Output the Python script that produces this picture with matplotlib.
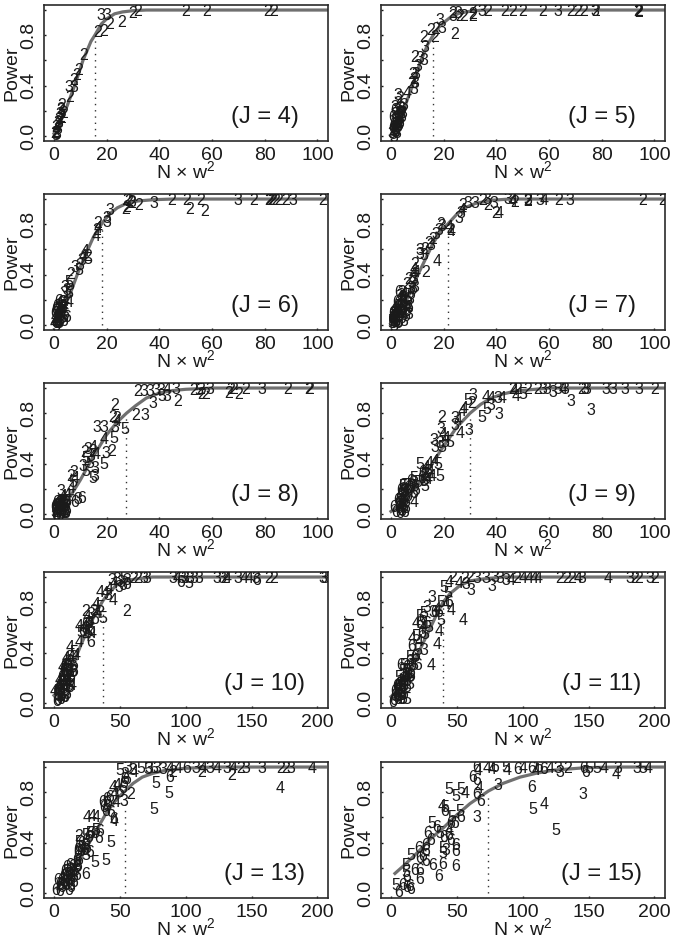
import matplotlib
matplotlib.use("Agg")
import matplotlib.pyplot as plt

plt.rcParams['font.family'] = ['Liberation Sans', 'DejaVu Sans']
plt.rcParams['mathtext.default'] = 'regular'

# Values. Each point is (N x w^2, power, digit).
j4_points = [(81,.99,'2'),(83.5,.99,'2'),(57.9,.99,'2'),(50,.99,'2'),(29.8,.975,'2'),(31.7,.99,'2'),(25.5,.90,'2'),
    (21,.885,'2'),(17.8,.96,'3'),(20,.96,'3'),(16.5,.825,'2'),(18.8,.83,'2'),(11.4,.635,'2'),(9.3,.52,'2'),(8.4,.48,'2'),
    (7.6,.44,'2'),(5.5,.385,'3'),(7.6,.385,'3'),(6,.305,'2'),(3,.24,'2'),(2.8,.2,'3'),(2.4,.21,'2'),(3.5,.18,'2'),
    (2.2,.17,'3'),(2.6,.15,'2'),(3,.14,'2'),(1.8,.13,'2'),(2,.1,'3'),(1.5,.11,'2'),(1.2,.08,'2'),(.8,.07,'2'),
    (1.5,.05,'3'),(1,.03,'2'),(.5,.02,'2'),(1.2,.01,'3'),(.2,.02,'2'),(.8,0,'3')]
j5_points = [(93.5,.985,'2'),(93.8,.98,'2'),(93.9,.99,'2'),(77.4,.99,'3'),(77.8,.99,'2'),(73.2,.99,'2'),(71,.99,'2'),
    (68.3,.99,'2'),(63.5,.99,'3'),(57.4,.99,'2'),(49.9,.99,'2'),(46.3,.99,'2'),(43.1,.99,'2'),(36.8,.985,'2'),
    (34.5,.99,'3'),(31.1,1.01,'2'),(30.8,.965,'2'),(31,.945,'2'),(27.5,.945,'2'),(26,.95,'2'),(23.5,.97,'2'),
    (25.4,.975,'3'),(23.5,.945,'3'),(24.1,.805,'2'),(18.4,.92,'3'),(19.4,.85,'3'),(17.1,.845,'2'),(15.2,.84,'2'),
    (12.3,.78,'2'),(16.5,.78,'2'),(12.7,.705,'3'),(8.9,.62,'2'),(10.8,.615,'3'),(12.3,.6,'3'),(10.2,.555,'3'),
    (8.2,.485,'2'),(9.3,.49,'3'),(8.5,.445,'2'),(8,.42,'2'),(9.1,.42,'3'),(8.5,.365,'3'),(6,.34,'4'),(2.8,.325,'3'),
    (3.2,.3,'2'),(2.5,.26,'2'),(5,.245,'3'),(1.4,.23,'3'),(3.6,.22,'3'),(2.2,.2,'3'),(4.4,.18,'3'),(1.5,.17,'3'),
    (3,.16,'3'),(2,.14,'3'),(3.5,.13,'3'),(1.2,.12,'2'),(2.6,.1,'3'),(1.8,.09,'3'),(3,.08,'3'),(1,.07,'3'),
    (2,.05,'3'),(.6,.04,'2'),(1.4,.03,'3'),(2.2,.02,'3'),(.2,.02,'3'),(.8,.01,'3'),(1.2,-.01,'3')]
j6_points = [(101.9,.99,'2'),(90.5,.99,'3'),(88,.99,'2'),(85.4,.99,'2'),(81.6,.99,'2'),(82,.99,'2'),(82.5,.99,'2'),
    (83,.99,'2'),(84,.99,'2'),(75.9,.99,'2'),(69.8,.99,'3'),(55.6,.99,'2'),(57.1,.9,'2'),(50.3,.99,'2'),(51.5,.92,'2'),
    (44.8,.99,'2'),(38.1,.965,'3'),(32.1,.945,'2'),(29.6,.965,'2'),(27.7,.99,'2'),(27.4,.935,'2'),(28.3,.98,'2'),
    (27,.92,'2'),(29.6,.975,'3'),(21.3,.91,'3'),(20,.845,'3'),(20,.81,'3'),(16.6,.805,'2'),(16.2,.75,'2'),(16,.705,'4'),
    (16.9,.765,'4'),(11.8,.58,'4'),(10.9,.54,'4'),(12.7,.54,'2'),(12.7,.52,'5'),(10.5,.515,'3'),(8,.46,'3'),(9.9,.475,'3'),
    (9.6,.43,'5'),(6.3,.4,'2'),(5.5,.34,'5'),(4.2,.3,'3'),(6.1,.315,'5'),(4.8,.275,'3'),(5.5,.25,'5'),(3.6,.25,'3'),
    (5.8,.18,'4'),(4.4,.19,'4'),(3.2,.18,'3'),(2,.17,'4'),(3.6,.15,'4'),(2.4,.14,'4'),(1.2,.13,'4'),(3.2,.11,'4'),
    (2,.1,'4'),(3.6,.06,'5'),(1,.09,'4'),(2.2,.07,'5'),(.6,.06,'4'),(1.6,.05,'5'),(.4,.03,'4'),(1,.02,'5'),(1.8,.01,'5'),
    (.2,.01,'4'),(.8,-.01,'5')]
j7_points = [(103.2,.99,'2'),(95.6,.99,'2'),(67.9,.99,'3'),(63.5,.99,'2'),(58,.99,'4'),(56.7,.99,'3'),(51.7,.99,'2'),
    (52,.99,'3'),(51.8,.98,'2'),(46.3,.98,'4'),(44.4,1,'3'),(45.7,1,'3'),(47,.97,'2'),(38.9,.965,'3'),(36.8,.95,'2'),
    (36.4,1,'3'),(34.9,.99,'2'),(31.7,.965,'3'),(29.2,.965,'3'),(27.3,.95,'2'),(41.2,.885,'4'),(39.7,.885,'2'),
    (27,.91,'4'),(25.8,.845,'3'),(26.6,.885,'3'),(22.8,.74,'4'),(22.5,.75,'2'),(22.2,.77,'4'),(19.4,.78,'3'),
    (19,.795,'2'),(18.2,.75,'3'),(17,.72,'3'),(17.4,.505,'4'),(13.1,.415,'2'),(15.8,.68,'2'),(15.2,.63,'3'),(14.2,.65,'2'),
    (12.6,.6,'2'),(11,.59,'3'),(10.8,.56,'3'),(12.4,.55,'3'),(9.1,.48,'2'),(8.8,.44,'4'),(9.4,.42,'4'),(8.4,.4,'4'),
    (8.7,.36,'3'),(6.5,.36,'2'),(5.9,.32,'2'),(8,.33,'3'),(7.4,.29,'3'),(8.9,.3,'3'),(4.1,.26,'3'),(3.7,.23,'3'),
    (5.1,.24,'4'),(4.3,.2,'4'),(3,.21,'4'),(7.2,.2,'3'),(6.5,.17,'3'),(6,.14,'4'),(3.5,.17,'4'),(2,.15,'4'),(4.8,.13,'4'),
    (3,.12,'4'),(1.3,.13,'4'),(6.6,.08,'3'),(4.5,.09,'4'),(2.5,.09,'4'),(1.5,.08,'4'),(3.6,.07,'4'),(4.8,.03,'3'),
    (.9,.06,'4'),(2.2,.05,'4'),(1.2,.04,'5'),(.4,.03,'5'),(1.8,.02,'5'),(.8,.01,'5'),(.2,.01,'5'),(1.2,-.01,'5')]
j8_points = [(96.5,.985,'2'),(97.2,.99,'2'),(88.8,.99,'2'),(79,.99,'3'),(72.7,.99,'2'),(70.2,.95,'2'),(68.3,.99,'2'),
    (66.4,.955,'2'),(67,.99,'2'),(56.2,.945,'2'),(57.5,.95,'2'),(59.1,.99,'3'),(55.6,.99,'2'),(55,.98,'5'),(53,.98,'2'),
    (47,.89,'2'),(46.4,.99,'3'),(42.9,.99,'4'),(40.4,.98,'3'),(42.9,.935,'3'),(41,.935,'5'),(38.8,.98,'3'),(36.3,.97,'3'),
    (31.7,.97,'2'),(34,.97,'3'),(37.6,.88,'3'),(30.8,.785,'2'),(34.6,.785,'3'),(27,.67,'5'),(23,.86,'2'),(22.3,.77,'2'),
    (23.9,.76,'2'),(24,.735,'4'),(23.2,.69,'3'),(16.2,.69,'3'),(19,.69,'3'),(19.2,.595,'4'),(22.6,.6,'5'),(19.8,.48,'3'),
    (22,.495,'2'),(18.8,.39,'5'),(15,.53,'4'),(14.5,.5,'2'),(13,.51,'3'),(11.5,.49,'2'),(16,.47,'4'),(14,.46,'3'),
    (12,.44,'5'),(10.8,.38,'3'),(13.5,.4,'5'),(15.5,.36,'3'),(12,.34,'5'),(15.4,.3,'3'),(14.8,.28,'5'),(7.5,.33,'3'),
    (6.2,.3,'2'),(8,.28,'4'),(7,.25,'5'),(10.5,.12,'6'),(9,.115,'3'),(2.5,.18,'3'),(6.5,.2,'4'),(5,.15,'4'),(6.8,.14,'5'),
    (3.5,.14,'4'),(7.8,.09,'6'),(4.8,.1,'5'),(2.8,.1,'4'),(1.5,.1,'4'),(3.6,.08,'5'),(2,.07,'5'),(4.5,.06,'5'),(1,.06,'5'),
    (3,.05,'5'),(1.8,.04,'6'),(4,.03,'6'),(.6,.03,'5'),(2.8,.02,'6'),(1.2,.01,'6'),(.2,.01,'5'),(3.6,.0,'6'),(2,-.01,'6'),
    (.6,-.01,'6'),(4.6,.01,'6')]
j9_points = [(100,.99,'2'),(93.9,.99,'3'),(88.8,.99,'3'),(84.4,.99,'3'),(81.6,.99,'3'),(74.2,.99,'3'),(72.3,.99,'2'),
    (73.6,.99,'3'),(75.8,.825,'3'),(68.3,.895,'3'),(66,.99,'3'),(65.4,.99,'4'),(63.5,.99,'3'),(61.3,.965,'3'),(57.7,.99,'3'),
    (55.8,.99,'2'),(59,.99,'3'),(52,.99,'2'),(48.2,.99,'2'),(46.3,.99,'2'),(50,.95,'5'),(47.6,.93,'4'),(46.8,.98,'4'),
    (41,.79,'3'),(38,.92,'4'),(36.2,.925,'4'),(40.6,.915,'3'),(42,.915,'4'),(36.2,.83,'5'),(38,.86,'3'),(34.3,.77,'5'),
    (31.1,.94,'3'),(29.2,.905,'5'),(30.5,.88,'2'),(27,.81,'4'),(27.8,.84,'4'),(29.6,.665,'3'),(26.3,.64,'4'),(24.1,.76,'3'),
    (19.3,.77,'2'),(24.2,.7,'3'),(25.5,.74,'4'),(18.8,.67,'3'),(19.8,.63,'4'),(21,.6,'4'),(16.4,.58,'3'),(18.4,.56,'3'),
    (20.6,.57,'5'),(22.4,.57,'5'),(19.4,.53,'5'),(16.8,.53,'3'),(16.6,.42,'4'),(17.6,.39,'5'),(14.6,.4,'4'),(13.4,.37,'4'),
    (11,.39,'5'),(15,.33,'4'),(18.4,.3,'5'),(15.6,.3,'4'),(13,.31,'5'),(12.4,.26,'5'),(14,.27,'4'),(13,.22,'5'),(8.6,.28,'5'),
    (10,.25,'5'),(7.5,.26,'6'),(9.5,.19,'6'),(8.5,.16,'6'),(8.6,.09,'4'),(6,.23,'5'),(4.6,.22,'5'),(7,.2,'6'),(5.2,.18,'5'),
    (3.8,.15,'5'),(6.2,.14,'6'),(4.8,.12,'6'),(3.2,.11,'5'),(5.6,.09,'6'),(2.8,.08,'6'),(4,.07,'6'),(1,.055,'6'),(5,.05,'6'),
    (3,.04,'6'),(4.2,.02,'6'),(1.8,.01,'6'),(5.2,.01,'6'),(3.2,0,'6')]
j10_points = [(203.8,.99,'3'),(206,.99,'3'),(167,.99,'2'),(163,.99,'2'),(154,.97,'6'),(153,.99,'3'),(148,.99,'4'),(144,.99,'4'),
    (139.6,.99,'3'),(131.5,.99,'4'),(129.4,.99,'2'),(127.7,.99,'3'),(123.9,.99,'3'),(110,.99,'3'),(106,.99,'3'),(102.3,.945,'5'),
    (103,.99,'3'),(96,.96,'6'),(93.4,.99,'4'),(90.4,.99,'3'),(97,.99,'3'),(99.7,.99,'3'),(63.5,.99,'2'),(70.6,.99,'3'),(68,.99,'3'),
    (60.4,.99,'2'),(54.8,.725,'2'),(37,.67,'5'),(45.2,.81,'4'),(55,.97,'3'),(53,.99,'5'),(51,.96,'3'),(55,.94,'6'),(48,.98,'3'),
    (52,.93,'6'),(46,.95,'4'),(49,.92,'3'),(44,.97,'3'),(42,.9,'4'),(39,.87,'4'),(35,.875,'4'),(41,.85,'3'),(35,.76,'5'),(32,.78,'4'),
    (33,.71,'4'),(30,.73,'3'),(24,.73,'2'),(28,.7,'3'),(25,.68,'4'),(31,.66,'6'),(27,.63,'4'),(19,.61,'4'),(23,.6,'4'),(26,.56,'5'),
    (20,.56,'5'),(29,.55,'4'),(24,.53,'4'),(28,.48,'6'),(19,.48,'4'),(12,.44,'4'),(15,.4,'5'),(17,.38,'4'),(13,.36,'4'),(9,.35,'4'),
    (11,.32,'4'),(15,.3,'6'),(6,.28,'4'),(8,.27,'4'),(10,.25,'5'),(14,.24,'6'),(6,.22,'4'),(9,.2,'5'),(11,.18,'4'),(4,.18,'4'),
    (7,.16,'5'),(14,.14,'4'),(12,.12,'6'),(3,.13,'4'),(5,.12,'5'),(8,.1,'5'),(0,.09,'4'),(4,.08,'5'),(10,.07,'6'),(6,.06,'5'),
    (2,.06,'5'),(8,.04,'6'),(3,.02,'6'),(2,.01,'6'),(5,.03,'6')]
j11_points = [(200,.99,'2'),(196.4,.99,'3'),(187.8,.99,'2'),(185,.99,'2'),(181.5,.99,'3'),(165,.99,'4'),(144.7,.99,'3'),(142,.99,'4'),
    (137,.99,'2'),(133,.99,'2'),(128,.99,'2'),(111.7,.99,'4'),(109,.99,'4'),(105,.99,'4'),(100,.99,'4'),(95,.99,'2'),(91,.97,'4'),
    (87,.97,'3'),(83,.99,'3'),(79,1,'3'),(72,.99,'3'),(65,.99,'3'),(76.7,.925,'3'),(60.9,.89,'3'),(54.6,.655,'4'),(45.7,.735,'4'),
    (36.8,.565,'4'),(34.8,.465,'4'),(30.5,.3,'4'),(12.2,.03,'5'),(38,.655,'5'),(60,1,'2'),(56,.99,'2'),(47,1,'2'),(57,.94,'3'),(52,.95,'4'),
    (44,.96,'4'),(40,.92,'5'),(43,.87,'5'),(44,.8,'6'),(42,.78,'4'),(38,.8,'5'),(31,.84,'3'),(27,.76,'3'),(32,.72,'3'),(35,.74,'4'),
    (25,.71,'5'),(22,.69,'5'),(19,.63,'4'),(29,.6,'5'),(24,.6,'4'),(26,.54,'5'),(19,.53,'5'),(16,.51,'4'),(21,.49,'4'),(25,.42,'3'),
    (20,.42,'5'),(19,.37,'6'),(14,.36,'5'),(7,.3,'6'),(10,.3,'5'),(17,.3,'5'),(20,.3,'6'),(13,.26,'5'),(9,.25,'5'),(15,.21,'6'),(11,.2,'6'),
    (6,.2,'5'),(14,.15,'5'),(8,.15,'6'),(12,.12,'6'),(5,.13,'6'),(3,.09,'6'),(7,.08,'6'),(10,.07,'6'),(6,.05,'6'),(9,.03,'6'),(2,.02,'6'),(1,.0,'6')]
j13_points = [(196,.99,'4'),(180,.99,'3'),(172,.99,'2'),(176,.99,'2'),(172,.83,'4'),(158,.99,'3'),(135,.93,'2'),(146,.99,'3'),(142,.99,'2'),
    (136,.99,'4'),(131,.99,'3'),(124,.99,'4'),(118,.99,'3'),(113,.99,'4'),(108,.99,'3'),(112,.96,'2'),(101,.99,'6'),(94,.99,'4'),(88,.99,'4'),
    (90,.96,'2'),(88,.92,'6'),(83,.98,'3'),(76,.99,'5'),(71,.98,'5'),(66,.99,'5'),(72,.99,'3'),(78,.99,'3'),(77,.87,'5'),(87,.79,'5'),(76,.66,'5'),
    (60,.97,'3'),(56,1,'3'),(50,.97,'5'),(54,.94,'3'),(54,.9,'6'),(61,.96,'4'),(58,.78,'2'),(53,.73,'3'),(45,.84,'4'),(48,.85,'4'),(46,.78,'4'),
    (41,.72,'6'),(37,.72,'6'),(47,.72,'4'),(39,.65,'6'),(43,.64,'6'),(45,.58,'6'),(46,.57,'4'),(25,.6,'4'),(29,.61,'4'),(32,.6,'4'),(32,.5,'5'),
    (35,.49,'6'),(34,.43,'6'),(43,.4,'5'),(27,.47,'5'),(24,.46,'5'),(19,.45,'2'),(19,.4,'5'),(24,.38,'5'),(18,.34,'6'),(27,.32,'6'),(39,.26,'5'),
    (31,.24,'5'),(24,.3,'5'),(17,.26,'6'),(24,.15,'6'),(17,.2,'6'),(12,.22,'6'),(8,.17,'6'),(14,.16,'6'),(17,.14,'6'),(10,.12,'6'),(6,.1,'6'),
    (13,.1,'6'),(3,.1,'6'),(4,.07,'6'),(9,.06,'6'),(13,.04,'6'),(6,.04,'6'),(1,.02,'6'),(11,.02,'6'),(4,.01,'6')]
j15_points = [(195,.99,'4'),(191,.99,'5'),(187,.99,'3'),(172,.99,'3'),(171,.94,'4'),(162,.99,'4'),(156,.99,'5'),(150,.99,'5'),(146,.99,'6'),(148,.96,'6'),
    (146,.78,'3'),(134,.99,'2'),(127,.99,'3'),(128,.96,'3'),(121,.99,'4'),(112,1,'6'),(116,.98,'6'),(110,.97,'4'),(107,.99,'6'),(96,.98,'6'),(100,.99,'4'),
    (88,.97,'4'),(87,1,'5'),(107,.84,'6'),(116,.7,'4'),(108,.66,'5'),(125,.5,'5'),(81,.85,'3'),(79,1,'6'),(77,.98,'4'),(73,.99,'4'),(65,1,'6'),(66,.97,'4'),
    (62,.92,'6'),(65,.89,'6'),(67,.83,'4'),(65,.78,'6'),(68,.73,'6'),(65,.6,'3'),(44,.82,'5'),(53,.82,'5'),(56,.79,'4'),(49,.77,'5'),(52,.65,'5'),(53,.6,'6'),
    (39,.69,'4'),(41,.68,'5'),(41,.65,'6'),(46,.6,'5'),(45,.55,'6'),(48,.55,'6'),(31,.55,'5'),(35,.52,'6'),(44,.5,'4'),(44,.46,'6'),(37,.47,'5'),(28,.47,'6'),
    (40,.44,'6'),(45,.42,'6'),(30,.42,'6'),(26,.38,'6'),(49,.38,'6'),(49,.33,'6'),(39,.35,'5'),(39,.31,'5'),(42,.34,'3'),(21,.35,'6'),(26,.33,'6'),(15,.3,'5'),
    (24,.29,'6'),(22,.27,'6'),(26,.25,'6'),(39,.23,'6'),(32,.22,'6'),(49,.21,'6'),(11,.22,'5'),(18,.18,'6'),(22,.18,'6'),(36,.13,'6'),(22,.11,'6'),(11,.16,'5'),
    (12,.12,'6'),(4,.06,'5'),(9,.06,'6'),(14,.05,'6'),(12,.04,'6'),(15,.03,'6'),(6,.0,'6')]

# the crowded low ends, drawn as rings of overlapping 6s
j4_crowd = []
j5_crowd = [(1.5,.2),(3.2,.19),(4,.15),(2.6,.13),(.8,.15),(3.4,.1),(1.6,.12),(2.4,.07),(1,.09),(3.6,.17),(.5,.06),(1.8,.03),(2.8,.12),(1.3,.05),(4.2,.21)]
j6_crowd = [(1.8,.19),(3.4,.14),(2.6,.09),(1.4,.07),(4.2,.08),(.8,.12),(3,.05),(2,.03),(1.2,.15),(.4,.09),(2.8,.18),(3.8,.03),(4.8,.06),(.6,.01),(1.4,.01)]
j7_crowd = [(3,.26),(4.5,.22),(2.2,.18),(3.6,.15),(5.8,.11),(1.4,.1),(2.8,.07),(4,.05),(.8,.09),(1.9,.03),(3.1,.02),(.6,.05),(5,.18),(6.2,.2),
    (2.4,.13),(3.4,.09),(1,.02),(4.6,.12),(2.6,.01),(7.5,.24),(8.3,.28),(6.8,.14),(1.6,.06),(2.1,.11),(5.4,.07)]
j8_crowd = [(1.2,.09),(2.4,.1),(3.6,.1),(4.4,.09),(.8,.07),(2.2,.05),(3.4,.03),(1.4,.03),(4,.07),(2.8,.07),(1.8,.08),(.4,.05),(5,.03),(3,.0),(1,-.01),(4.4,0)]
j9_crowd = [(3.6,.19),(4.4,.23),(4.2,.17),(5,.19),(3.4,.12),(4.8,.1),(5.4,.14),(2.6,.11),(4,.09),(5.4,.04),(3.6,.03),(4.6,.07),(6.4,.2),(7.6,.22),(8.4,.25),
    (9,.22),(11.8,.28),(13,.27),(12.2,.33),(14,.34)]
j10_crowd = [(3,.1),(5,.1),(7,.13),(9,.13),(11,.13),(6,.2),(8,.24),(10,.21),(12,.17),(8,.3),(10,.29),(12,.24),(14,.28),(11,.26),(4,.14),(6,.16),(9,.09),(5,.05),(7,.04),
    (3,.05),(9,.17),(13,.2),(7,.26),(15,.25),(11,.36),(24,.58),(26,.63),(28,.58),(24,.62),(22,.57)]
j11_crowd = [(4,.13),(6,.15),(8,.12),(10,.13),(12,.17),(14,.2),(5,.08),(7,.17),(9,.19),(11,.23),(13,.22),(4,.05),(6,.1),(8,.06),(10,.16),(15,.24),(12,.28),(14,.33),(16,.3),(18,.36),
    (3,.05),(5,.03),(7,.03),(16,.45),(22,.63),(24,.67),(23,.55),(27,.63),(33,.72),(36,.72)]
j13_crowd = [(5,.06),(7,.08),(9,.09),(11,.08),(13,.06),(15,.08),(7,.13),(9,.15),(11,.15),(13,.13),(15,.12),(10,.2),(12,.18),(14,.21),(16,.17),(18,.21),(17,.24),(19,.26),(18,.31),
    (20,.33),(23,.34),(25,.35),(19,.36),(21,.39),(24,.41),(26,.44),(28,.47),(31,.47),(38,.68),(40,.74),(42,.76),(40,.69),(53,.87),(55,.9),(52,.83),(50,.8)]
j15_crowd = []

# fitted power curves, read at a handful of x values
j4_curve_x = [0, 2, 5, 8, 11, 14, 15.5, 18, 20, 23, 26, 30, 35, 104]
j4_curve_y = [.02, .09, .24, .41, .6, .75, .8, .89, .93, .97, .985, .995, 1, 1]
j5_curve_x = [0, 2, 5, 8, 11, 14, 16, 18, 20, 23, 26, 30, 35, 104]
j5_curve_y = [.01, .08, .22, .39, .58, .73, .8, .86, .9, .95, .975, .99, 1, 1]
j6_curve_x = [0, 3, 6, 9, 12, 15, 18.3, 21, 24, 28, 32, 38, 45, 104]
j6_curve_y = [.01, .1, .24, .41, .56, .7, .81, .88, .93, .97, .985, .995, 1, 1]
j7_curve_x = [0, 3, 6, 10, 13, 16, 19, 21.5, 25, 28, 32, 38, 45, 104]
j7_curve_y = [.01, .08, .2, .39, .52, .65, .75, .8, .88, .93, .965, .99, 1, 1]
j8_curve_x = [0, 5, 10, 15, 20, 24, 27.5, 31, 35, 40, 45, 50, 60, 104]
j8_curve_y = [.02, .1, .27, .46, .63, .73, .8, .86, .92, .96, .98, .99, 1, 1]
j9_curve_x = [0, 5, 10, 15, 20, 25, 30, 34, 38, 42, 47, 52, 60, 104]
j9_curve_y = [.02, .09, .23, .38, .54, .69, .8, .87, .92, .95, .975, .985, 1, 1]
j10_curve_x = [0, 5, 10, 15, 20, 25, 30, 37, 42, 48, 55, 62, 75, 206]
j10_curve_y = [.06, .11, .21, .32, .45, .57, .68, .81, .88, .94, .97, .985, 1, 1]
j11_curve_x = [0, 5, 10, 15, 20, 25, 30, 35, 39.5, 45, 52, 60, 70, 85, 206]
j11_curve_y = [.05, .1, .17, .27, .38, .49, .6, .71, .8, .87, .93, .97, .985, 1, 1]
j13_curve_x = [2, 10, 20, 30, 40, 48, 54, 60, 67, 75, 85, 100, 120, 206]
j13_curve_y = [.04, .11, .27, .46, .64, .75, .81, .87, .92, .95, .975, .99, 1, 1]
j15_curve_x = [3, 10, 20, 30, 40, 50, 60, 74, 85, 98, 110, 123, 148, 170, 206]
j15_curve_y = [.155, .22, .32, .43, .52, .62, .71, .81, .87, .92, .95, .975, .995, 1, 1]

j_values = [4, 5, 6, 7, 8, 9, 10, 11, 13, 15]
power80_x = [15.5, 16, 18.3, 21.5, 27.5, 30, 37, 39.5, 54, 74]
x_max = [100, 100, 100, 100, 100, 100, 200, 200, 200, 200]
y_ticks = [0, .2, .4, .6, .8, 1]
y_tick_labels = ['0.0', '', '0.4', '', '0.8', '']

all_points = [j4_points, j5_points, j6_points, j7_points, j8_points, j9_points, j10_points, j11_points, j13_points, j15_points]
all_crowds = [j4_crowd, j5_crowd, j6_crowd, j7_crowd, j8_crowd, j9_crowd, j10_crowd, j11_crowd, j13_crowd, j15_crowd]
curves_x = [j4_curve_x, j5_curve_x, j6_curve_x, j7_curve_x, j8_curve_x, j9_curve_x, j10_curve_x, j11_curve_x, j13_curve_x, j15_curve_x]
curves_y = [j4_curve_y, j5_curve_y, j6_curve_y, j7_curve_y, j8_curve_y, j9_curve_y, j10_curve_y, j11_curve_y, j13_curve_y, j15_curve_y]

W, H = 674, 938
col_left = [44, 381]
row_top = [5, 194, 383, 572, 762]
ax_w, ax_h = 284, 136

fig = plt.figure(figsize=(W / 100, H / 100), dpi=100)

for i, j in enumerate(j_values):
    row, col = divmod(i, 2)
    left = col_left[col]
    bottom = H - row_top[row] - ax_h
    ax = fig.add_axes([left / W, bottom / H, ax_w / W, ax_h / H])

    xm = x_max[i]
    ax.plot(curves_x[i], curves_y[i], color='#707070', lw=2.3, zorder=2)
    ax.plot([power80_x[i], power80_x[i]], [0, .78], color='#333333', lw=1, ls=(0, (1, 3.5)), zorder=1)
    for x, y, d in all_points[i]:
        ax.text(x, y, d, fontsize=11.5, ha='center', va='center', color='#1a1a1a', clip_on=True, zorder=3)
    for x, y in all_crowds[i]:
        ax.text(x, y, '6', fontsize=11.5, ha='center', va='center', color='#1a1a1a', clip_on=True, zorder=3)

    ax.set_xlim(-0.038 * xm, 1.04 * xm)
    ax.set_ylim(-0.04, 1.04)
    ax.set_xticks([t * xm / 100 for t in range(0, 101, 20)] if xm == 100 else [0, 50, 100, 150, 200])
    ax.set_yticks(y_ticks)
    ax.set_yticklabels(y_tick_labels, rotation=90, va='center')
    ax.tick_params(axis='both', direction='in', length=1.5, width=1, labelsize=14, colors='#1a1a1a', pad=5)
    ax.tick_params(axis='x', pad=4)
    for s in ax.spines.values():
        s.set_linewidth(1.2)
        s.set_color('#2a2a2a')

    ax.set_xlabel('N × w$^{2}$', fontsize=14, va='center', color='#1a1a1a')
    ax.xaxis.set_label_coords(0.5, -30 / ax_h)
    ax.set_ylabel('Power', fontsize=14, va='center', color='#1a1a1a')
    ax.yaxis.set_label_coords(-32 / ax_w, 0.5)
    ax.text(0.778, 0.176, f'(J = {j})', transform=ax.transAxes, fontsize=17, ha='center', va='center', color='#1a1a1a')

fig.savefig('out.png', dpi=100)
